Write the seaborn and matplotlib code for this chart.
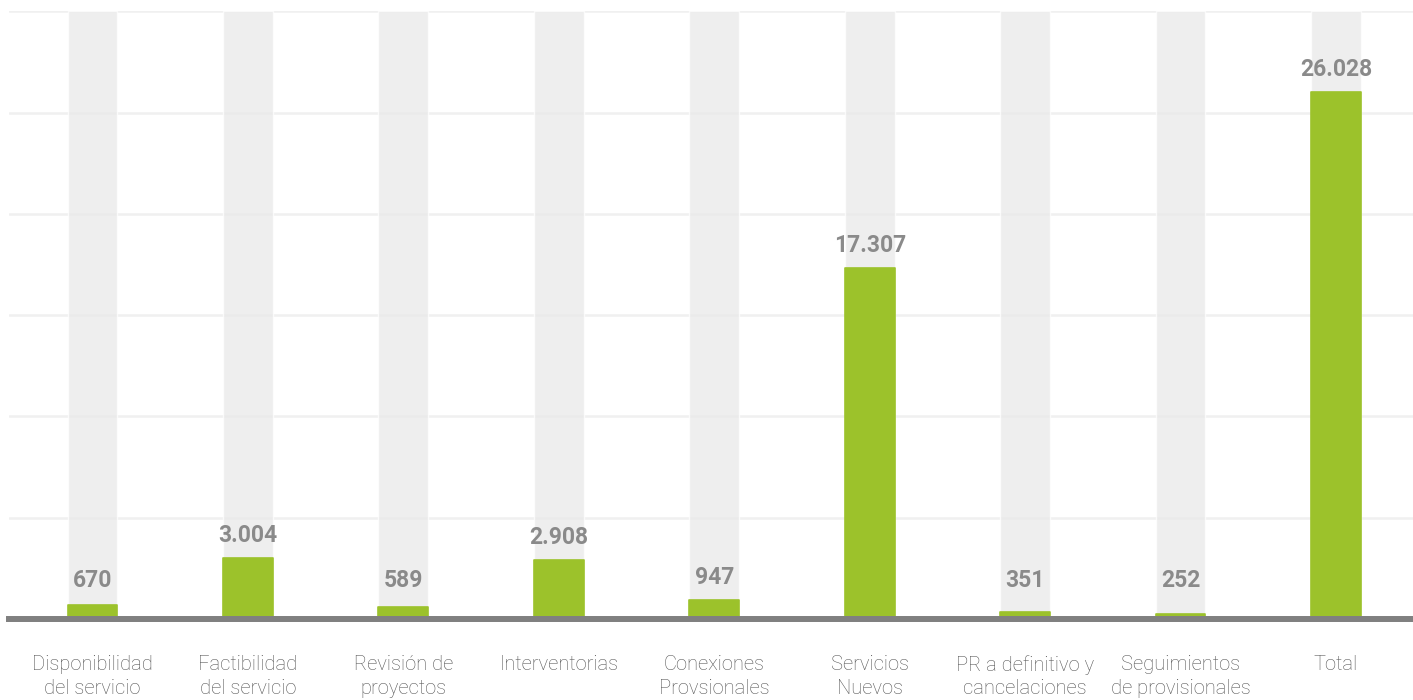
import matplotlib
matplotlib.use("Agg")
import matplotlib.pyplot as plt
import seaborn as sns

# Solicitudes atendidas por tipo de trámite
categories = [
    "Disponibilidad\ndel servicio",
    "Factibilidad\ndel servicio",
    "Revisión de\nproyectos",
    "Interventorias",
    "Conexiones\nProvsionales",
    "Servicios\nNuevos",
    "PR a definitivo y\ncancelaciones",
    "Seguimientos\nde provisionales",
    "Total",
]
values = [670, 3004, 589, 2908, 947, 17307, 351, 252, 26028]
value_labels = ["670", "3.004", "589", "2.908", "947", "17.307", "351", "252", "26.028"]

y_max = 30000
y_ticks = [0, 5000, 10000, 15000, 20000, 25000, 30000]

GREEN = "#9cc22b"
TRACK = "#e9e9e9"
AXIS_GRAY = "#808080"
LABEL_GRAY = "#8a8a8a"
TICK_GRAY = "#555555"

sns.set_theme(style="white")
plt.rcParams["font.family"] = ["Roboto", "DejaVu Sans"]

W, H = 1413, 700
fig = plt.figure(figsize=(W / 100, H / 100), dpi=100)
ax = fig.add_axes([9 / W, (H - 619) / H, 1 - 9 / W, (619 - 11.3) / H])

# full-height background tracks
sns.barplot(x=categories, y=[y_max] * len(categories), color=TRACK, alpha=0.75,
            width=0.32, errorbar=None, ax=ax, saturation=1, zorder=1)
n_track = len(ax.patches)
# values
sns.barplot(x=categories, y=values, color=GREEN, width=0.32, errorbar=None,
            ax=ax, saturation=1, zorder=2)
for p in ax.patches[n_track:]:
    p.set_edgecolor(GREEN)
    p.set_linewidth(1.2)
    p.set_joinstyle("round")

# value labels; very short bars share a common minimum label height
for i, (v, lab) in enumerate(zip(values, value_labels)):
    ax.annotate(lab, xy=(i, max(v, 800)), xytext=(0, 8), textcoords="offset points",
                ha="center", va="bottom", fontsize=16.5, fontweight="bold",
                color=LABEL_GRAY, zorder=5)

ax.set_ylim(0, y_max)
ax.set_xlim(-0.537, 8.495)
ax.set_yticks(y_ticks)
ax.set_yticklabels([])
ax.yaxis.grid(True, color="#f0f0f0", linewidth=1.8)
ax.xaxis.grid(False)
ax.set_axisbelow(True)

sns.despine(ax=ax, left=True, top=True, right=True)
ax.spines["bottom"].set_color(AXIS_GRAY)
ax.spines["bottom"].set_linewidth(4.3)
ax.spines["bottom"].set_zorder(4)

ax.tick_params(axis="both", length=0)
ax.tick_params(axis="x", pad=26)
for t in ax.get_xticklabels():
    t.set_fontsize(14.5)
    t.set_fontweight("light")
    t.set_color(TICK_GRAY)
    t.set_linespacing(1.3)
ax.set_xlabel("")
ax.set_ylabel("")

fig.savefig("out.png", dpi=100)
